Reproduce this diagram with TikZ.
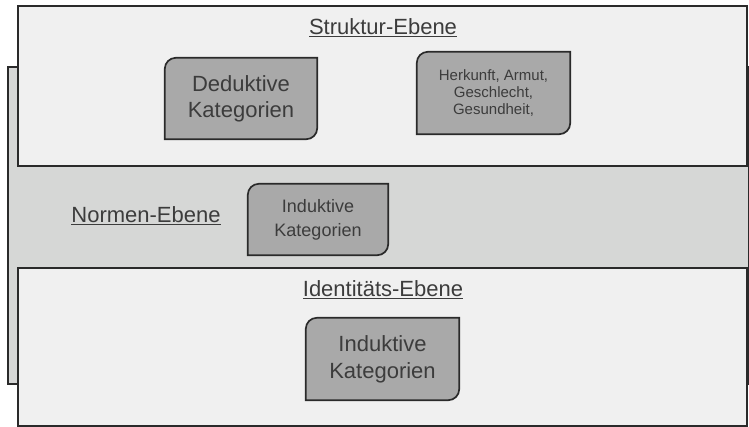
\documentclass[tikz,border=0pt]{standalone}
\usepackage{fontspec}
\setmainfont{Liberation Sans}
\usetikzlibrary{positioning}

\definecolor{panelfill}{HTML}{F0F0F0}
\definecolor{midfill}{HTML}{D6D7D6}
\definecolor{katfill}{HTML}{A9A9A9}
\definecolor{edgegrey}{HTML}{2A2A2A}
\definecolor{textgrey}{HTML}{3C3C3C}

\pgfdeclarelayer{panels}
\pgfdeclarelayer{forms}
\pgfsetlayers{panels,forms,main}

% box outline: rounded top left and bottom right corner only
\newcommand{\katform}[1]{%
  \begin{pgfonlayer}{forms}
    \draw[katline] (#1.north east) -- ([yshift=11pt]#1.south east)
      arc[start angle=0, end angle=-90, radius=11pt] -- (#1.south west)
      -- ([yshift=-11pt]#1.north west)
      arc[start angle=180, end angle=90, radius=11pt] -- cycle;
  \end{pgfonlayer}}

\tikzset{
  panel/.style={draw=edgegrey, line width=1.7pt, inner sep=0pt, anchor=north west},
  ebene/.style={text=textgrey, font=\fontsize{22}{26}\selectfont},
  kat/.style={align=center, text=textgrey, inner sep=0pt,
    minimum width=153pt, minimum height=82pt},
  katline/.style={fill=katfill, draw=edgegrey, line width=1.7pt},
}

\begin{document}
\begin{tikzpicture}[x=1pt, y=-1pt]
  \useasboundingbox (0,0) rectangle (749,426);

  \begin{pgfonlayer}{panels}
    \node[panel, fill=midfill, minimum width=741pt, minimum height=317pt]
      (normenpanel) at (7,66) {};
    \node[panel, fill=panelfill, minimum width=729pt, minimum height=160pt]
      (strukturpanel) at (17,5) {};
    \node[panel, fill=panelfill, minimum width=729pt, minimum height=158pt]
      (identpanel) at (17,267) {};
  \end{pgfonlayer}

  % Struktur-Ebene
  \node[ebene] (struktur) at (383,28) {\underline{Struktur-Ebene}};
  \node[kat, minimum width=152pt, minimum height=81pt,
    font=\fontsize{22}{26}\selectfont] (deduktiv) at (241,98.5)
    {Deduktive\\Kategorien};
  \node[kat, font=\fontsize{15}{17}\selectfont] (merkmale) at (493.5,93)
    {Herkunft, Armut,\\Geschlecht,\\Gesundheit,};
  \katform{deduktiv}
  \katform{merkmale}

  % Normen-Ebene
  \node[ebene] (normen) at (146,216) {\underline{Normen-Ebene}};
  \node[kat, minimum width=140pt, minimum height=71pt,
    font=\fontsize{18}{24}\selectfont] (induktivnorm) at (318,219.5)
    {Induktive\\Kategorien};
  \katform{induktivnorm}

  % Identitaets-Ebene
  \node[ebene] (identitaet) at (383,290) {\underline{Identitäts-Ebene}};
  \node[kat, font=\fontsize{22}{27}\selectfont] (induktivid) at (382.5,359)
    {Induktive\\Kategorien};
  \katform{induktivid}
\end{tikzpicture}
\end{document}
